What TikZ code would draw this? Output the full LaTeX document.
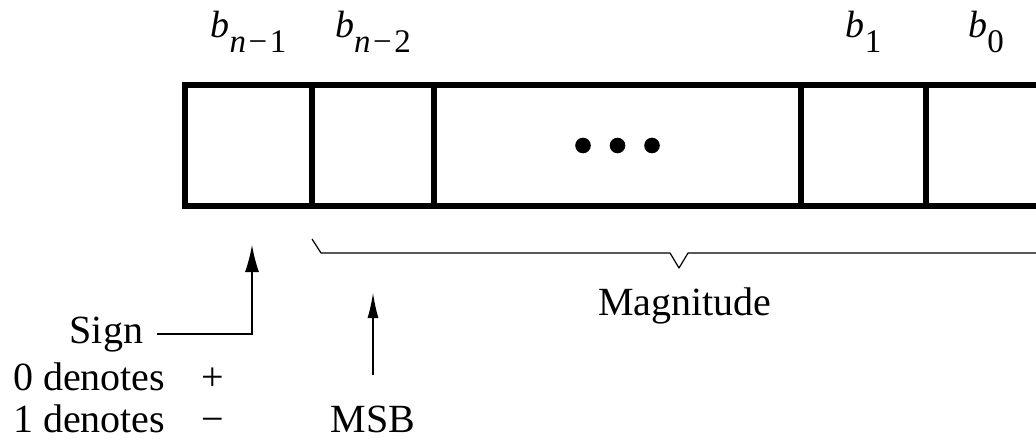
\documentclass[tikz,border=0pt]{standalone}
\usepackage{fontspec}
\setmainfont{Liberation Serif}
\usetikzlibrary{positioning, arrows.meta}

\newcommand{\bitname}[1]{{\fontsize{19}{19}\selectfont\textit{b}}\raisebox{-7.5pt}{\fontsize{16.5}{16.5}\selectfont #1}}
\newcommand{\nsub}[1]{\textit{n}\hspace{0.08em}−\hspace{0.08em}#1}

\begin{document}
\begin{tikzpicture}[
    x=0.5pt, y=-0.5pt,
    % --- Estilos ---
    cell/.style={draw, rectangle, line width=2.6pt, minimum height=60.5pt,
                 inner sep=0pt, outer sep=0pt},
    bitlabel/.style={inner sep=0pt, outer sep=0pt},
    txt/.style={font=\fontsize{20}{21}\selectfont, inner sep=0pt, outer sep=0pt},
    thinline/.style={line width=0.6pt},
    signarrow/.style={thinline, -{Latex[length=13.5pt, width=7pt]}},
    msbarrow/.style={thinline, -{Latex[length=12.5pt, width=5.5pt]}}
]
\useasboundingbox (0,0) rectangle (1036,438);

% ====== Registro de n bits ======
\node[cell, minimum width=63.5pt] (c1) at (248.5,145.5) {};
\node[cell, minimum width=61pt] (c2) [right=0pt of c1] {};
\node[cell, minimum width=183.5pt] (c3) [right=0pt of c2] {};
\node[cell, minimum width=62.5pt] (c4) [right=0pt of c3] {};
\node[cell, minimum width=60pt] (c5) [right=0pt of c4] {};

\foreach \dx in {-1,0,1}
    \fill ([xshift=\dx*17.25pt]c3.center) circle (3.9pt);

% Etiquetas de los bits
\node[bitlabel] (bA) [above=16pt of c1] {\bitname{\nsub{1}}};
\node[bitlabel] (bB) [above=16pt of c2] {\bitname{\nsub{2}}};
\node[bitlabel] (bC) [above=16pt of c4] {\bitname{1}};
\node[bitlabel] (bD) [above=16pt of c5] {\bitname{0}};

% ====== Magnitud ======
\draw[thinline, line join=round] ([yshift=-16.5pt]c2.south west) -- (321,253)
    -- (670,253) -- (679,268) -- (688,253) -- (1037,253) -- (1046,239);
\node[txt, anchor=base] (mag) at (685,315) {Magnitude};

% ====== Signo ======
\node[txt, anchor=base east] (sign) at (143,343) {Sign};
\node[txt, anchor=base west] (zero) at (13,390) {0 denotes\hspace{18pt}+};
\node[txt, anchor=base west] (one) at (13,432) {1 denotes\hspace{18pt}−};
\coordinate (signtip) at ([xshift=1.75pt, yshift=-19.5pt]c1.south);
\draw[signarrow] ([xshift=7pt]sign.east) -| (signtip);

% ====== MSB ======
\node[txt, anchor=base] (msb) at (373,432) {MSB};
\coordinate (msbtip) at ([yshift=-43.5pt]c2.south);
\draw[msbarrow] ([yshift=15.5pt]msb.north) -- (msbtip);

\end{tikzpicture}
\end{document}
